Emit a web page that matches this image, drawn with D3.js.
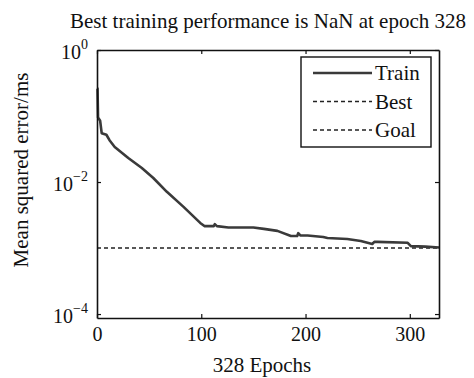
<html>
<head>
<meta charset="utf-8">
<title>Training performance</title>
<script src="https://cdn.jsdelivr.net/npm/d3@7"></script>
<style>
  body { margin: 0; background: #fff; }
  text { font-family: "Liberation Serif", "Times New Roman", serif; fill: #111; }
</style>
</head>
<body>
<div id="chart"></div>
<script>
// values
var epochs = [0, 0.5, 1, 3, 4.5, 9, 12, 17, 30, 43, 54, 67, 83, 99, 103, 112, 113, 115, 126, 150, 160, 173, 186, 192, 193, 195, 202, 217, 221, 240, 253, 264, 266, 269, 298, 301, 315, 328];
var trainMse = [0.26, 0.26, 0.095, 0.085, 0.055, 0.052, 0.043, 0.034, 0.0231, 0.0163, 0.0115, 0.0071, 0.0042, 0.0024, 0.00215, 0.00215, 0.0023, 0.00215, 0.00205, 0.00205, 0.00195, 0.00182, 0.00152, 0.00152, 0.00168, 0.00155, 0.00155, 0.00147, 0.00142, 0.00137, 0.00128, 0.00115, 0.00124, 0.00124, 0.0012, 0.00107, 0.00105, 0.00102];
var goal = 1e-3;
var xTicks = [0, 100, 200, 300];
var yTicks = [1, 1e-2, 1e-4];
var yExp = ["0", "\u22122", "\u22124"];
var legendItems = ["Train", "Best", "Goal"];

var w = 474, h = 378;
var plotL = 97, plotR = 439, plotT = 50, plotB = 318;

var svg = d3.select("#chart").append("svg")
    .attr("width", w)
    .attr("height", h);

var x = d3.scaleLinear().domain([0, 328]).range([plotL, plotR]);
var y = d3.scaleLog().domain([Math.pow(10, -4.06), 1]).range([plotB, plotT]);

// goal line
svg.append("line")
    .attr("x1", x(0)).attr("x2", x(328))
    .attr("y1", y(goal)).attr("y2", y(goal))
    .attr("stroke", "#222")
    .attr("stroke-width", 1.6)
    .attr("stroke-dasharray", "4,3");

// train line
var line = d3.line()
    .x(function(d, i) { return x(epochs[i]); })
    .y(function(d) { return y(d); });

svg.append("path")
    .datum(trainMse)
    .attr("d", line)
    .attr("fill", "none")
    .attr("stroke", "#3a3a3a")
    .attr("stroke-width", 2.6)
    .attr("stroke-linejoin", "round");

// axes, ticks pointing inward
var axB = svg.append("g").attr("transform", "translate(0," + plotB + ")")
    .call(d3.axisBottom(x).tickValues(xTicks).tickSizeInner(-4).tickSizeOuter(0).tickPadding(9).tickFormat(d3.format("d")));
var axT = svg.append("g").attr("transform", "translate(0," + plotT + ")")
    .call(d3.axisTop(x).tickValues(xTicks).tickSizeInner(-4).tickSizeOuter(0).tickFormat(""));
var axL = svg.append("g").attr("transform", "translate(" + plotL + ",0)")
    .call(d3.axisLeft(y).tickValues(yTicks).tickSizeInner(-4).tickSizeOuter(0).tickPadding(9).tickFormat(""));
var axR = svg.append("g").attr("transform", "translate(" + plotR + ",0)")
    .call(d3.axisRight(y).tickValues(yTicks).tickSizeInner(-4).tickSizeOuter(0).tickFormat(""));

[axB, axT, axL, axR].forEach(function(g) {
    g.selectAll("path.domain").attr("stroke", "#111").attr("stroke-width", 1.6);
    g.selectAll(".tick line").attr("stroke", "#111").attr("stroke-width", 1.2);
});

axB.selectAll(".tick text")
    .attr("font-size", 20)
    .attr("fill", "#111")
    .style("font-family", "'Liberation Serif', serif");

// log labels with superscripts
axL.selectAll(".tick text").each(function(d, i) {
    var t = d3.select(this)
        .attr("fill", "#111")
        .attr("font-size", 20)
        .attr("dy", "0.4em")
        .style("font-family", "'Liberation Serif', serif");
    t.append("tspan").text("10");
    t.append("tspan").attr("font-size", 14).attr("dy", "-0.7em").text(yExp[i]);
});

// title and labels
svg.append("text")
    .attr("x", (plotL + plotR) / 2)
    .attr("y", 28)
    .attr("text-anchor", "middle")
    .attr("font-size", 21)
    .text("Best training performance is NaN at epoch 328");

svg.append("text")
    .attr("x", (plotL + plotR) / 2 - 6)
    .attr("y", 372)
    .attr("text-anchor", "middle")
    .attr("font-size", 21)
    .text("328 Epochs");

svg.append("text")
    .attr("transform", "translate(28,170) rotate(-90)")
    .attr("text-anchor", "middle")
    .attr("font-size", 21)
    .text("Mean squared error/ms");

// legend
var lg = svg.append("g").attr("transform", "translate(301,57)");
lg.append("rect")
    .attr("width", 130).attr("height", 90)
    .attr("fill", "#fff")
    .attr("stroke", "#111")
    .attr("stroke-width", 1.4);

lg.selectAll("g.item")
    .data(legendItems)
    .enter().append("g")
    .attr("class", "item")
    .attr("transform", function(d, i) { return "translate(0," + (16 + i * 28.5) + ")"; })
    .each(function(d, i) {
        var g = d3.select(this);
        g.append("line")
            .attr("x1", 12).attr("x2", 71)
            .attr("stroke", i === 0 ? "#3a3a3a" : "#222")
            .attr("stroke-width", i === 0 ? 2.6 : 1.4)
            .attr("stroke-dasharray", i === 0 ? null : "4,3");
        g.append("text")
            .attr("x", 74)
            .attr("dy", "0.35em")
            .attr("font-size", 21)
            .text(d);
    });
</script>
</body>
</html>
